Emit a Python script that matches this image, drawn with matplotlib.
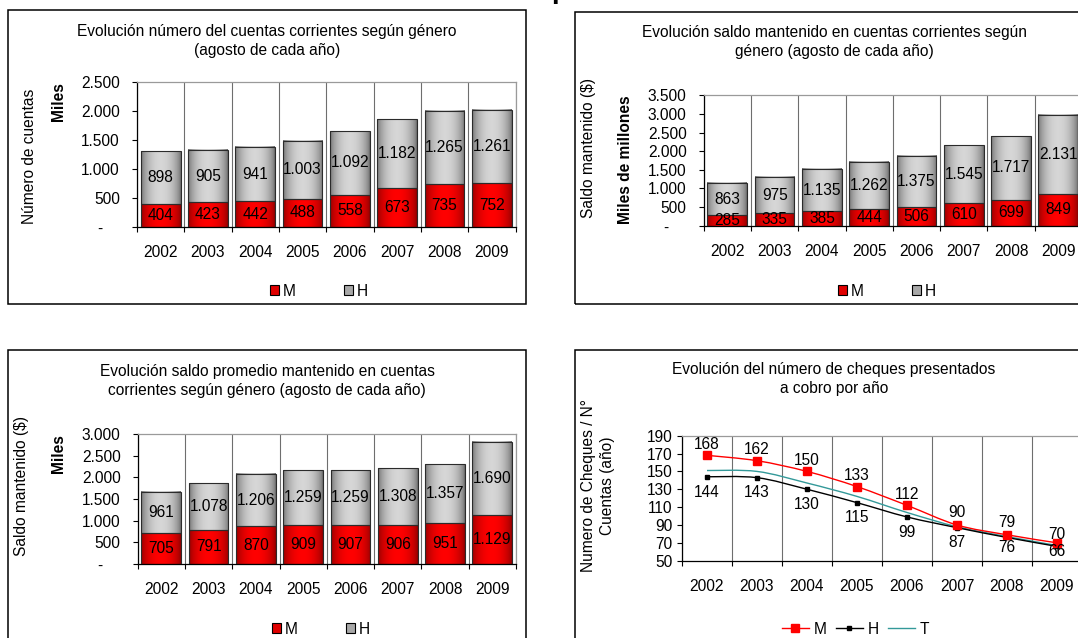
import numpy as np
import matplotlib
matplotlib.use("Agg")
import matplotlib.pyplot as plt
from matplotlib.patches import Rectangle, Patch, PathPatch
from matplotlib.lines import Line2D
from matplotlib.path import Path
from matplotlib.ticker import FuncFormatter

plt.rcParams['font.family'] = ['Liberation Sans', 'DejaVu Sans']

# ---- data -------------------------------------------------------------
years = ['2002', '2003', '2004', '2005', '2006', '2007', '2008', '2009']

cuentas_m = [404, 423, 442, 488, 558, 673, 735, 752]
cuentas_h = [898, 905, 941, 1003, 1092, 1182, 1265, 1261]

saldo_m = [285, 335, 385, 444, 506, 610, 699, 849]
saldo_h = [863, 975, 1135, 1262, 1375, 1545, 1717, 2131]

promedio_m = [705, 791, 870, 909, 907, 906, 951, 1129]
promedio_h = [961, 1078, 1206, 1259, 1259, 1308, 1357, 1690]

cheques_m = [168, 162, 150, 133, 112, 90, 79, 70]
cheques_h = [144, 143, 130, 115, 99, 87, 76, 66]
cheques_t = [151, 150, 137, 122, 104, 88, 77, 67]

# ---- figure helpers ---------------------------------------------------
W, H = 1078, 638
fig = plt.figure(figsize=(W / 100, H / 100), dpi=100)
fig.patch.set_facecolor('white')
FS = 11.2
LS = 1.4


def box(x0, y0, x1, y1):
    return [x0 / W, 1 - y1 / H, (x1 - x0) / W, (y1 - y0) / H]


def ftext(x, y, s, **kw):
    return fig.text(x / W, 1 - y / H, s, **kw)


def frame(x0, y0, x1, y1):
    fig.add_artist(Rectangle((x0 / W, 1 - y1 / H), (x1 - x0) / W, (y1 - y0) / H,
                             transform=fig.transFigure, fill=False,
                             ec='black', lw=1.1, zorder=0))


def miles(v):
    return f"{int(round(v)):,}".replace(',', '.')


def tick_fmt(v, _pos):
    return '-    ' if abs(v) < 1e-9 else miles(v)


def gradient(edge, centre, n=64):
    t = np.linspace(0, 1, n)
    w = np.sin(np.pi * t) ** 0.6
    edge = np.array(edge)[None, :]
    centre = np.array(centre)[None, :]
    rgb = edge * (1 - w[:, None]) + centre * w[:, None]
    return rgb[None, :, :]


RED_GRAD = gradient((0.55, 0.0, 0.0), (1.0, 0.0, 0.0))
GRAY_GRAD = gradient((0.42, 0.42, 0.42), (0.84, 0.84, 0.84))


def style_axes(ax, n, ylo, yhi, step, ypad, xpad):
    x = np.arange(n)
    ax.set_xlim(-0.5, n - 0.5)
    ax.set_ylim(ylo, yhi)
    ax.set_xticks(np.arange(-0.5, n, 1.0))
    ax.set_xticklabels([])
    ax.set_xticks(x, minor=True)
    ax.set_xticklabels(years, minor=True)
    ax.tick_params(axis='x', which='major', length=3.8, width=0.8,
                   direction='out', color='black')
    ax.tick_params(axis='x', which='minor', length=0, pad=xpad, labelsize=FS)
    ax.set_yticks(np.arange(ylo, yhi + step / 2, step))
    ax.yaxis.set_major_formatter(FuncFormatter(tick_fmt))
    ax.tick_params(axis='y', length=3.8, width=0.8, direction='out',
                   pad=ypad, labelsize=FS)
    ax.grid(axis='x', which='major', color='#6e6e6e', lw=0.8)
    ax.set_axisbelow(True)
    for side in ('left', 'bottom'):
        ax.spines[side].set_color('black')
        ax.spines[side].set_linewidth(0.9)
    for side in ('top', 'right'):
        ax.spines[side].set_color('#9a9a9a')
        ax.spines[side].set_linewidth(0.9)
    ax.set_facecolor('white')


def stacked_bars(ax, m, h, ymax, step):
    n = len(years)
    x = np.arange(n)
    style_axes(ax, n, 0, ymax, step, ypad=8.5, xpad=13)
    bw = 0.84
    for vals, base, grad in ((m, np.zeros(n), RED_GRAD),
                             (h, np.array(m), GRAY_GRAD)):
        bars = ax.bar(x, vals, bw, bottom=base, facecolor='none',
                      edgecolor='#2b2b2b', lw=0.8, zorder=3)
        for b, v, b0 in zip(bars, vals, base):
            ax.imshow(grad, extent=(b.get_x(), b.get_x() + b.get_width(),
                                    b.get_y(), b.get_y() + b.get_height()),
                      aspect='auto', interpolation='bilinear', zorder=2)
            ax.text(b.get_x() + b.get_width() / 2, b0 + v / 2, miles(v),
                    ha='center', va='center', fontsize=FS, color='black',
                    zorder=4, clip_on=True)
    ax.set_xlim(-0.5, n - 0.5)
    ax.set_ylim(0, ymax)


def bar_legend(ax, cx, cy):
    handles = [Patch(facecolor='#e00000', edgecolor='black', lw=0.8),
               Patch(facecolor='#a8a8a8', edgecolor='black', lw=0.8)]
    ax.legend(handles, ['M', 'H'], loc='center',
              bbox_to_anchor=(cx / W, 1 - cy / H), bbox_transform=fig.transFigure,
              ncol=2, frameon=False, fontsize=FS, handlelength=0.6,
              handleheight=0.6, handletextpad=0.25, columnspacing=3.1,
              borderpad=0, borderaxespad=0)


def smooth_path(xs, ys):
    pts = np.column_stack([xs, ys]).astype(float)
    n = len(pts)
    verts = [pts[0]]
    codes = [Path.MOVETO]
    for i in range(n - 1):
        p0 = pts[max(i - 1, 0)]
        p1 = pts[i]
        p2 = pts[i + 1]
        p3 = pts[min(i + 2, n - 1)]
        verts += [p1 + (p2 - p0) / 6, p2 - (p3 - p1) / 6, p2]
        codes += [Path.CURVE4] * 3
    return Path(verts, codes)


# ---- panel 1: número de cuentas ---------------------------------------
frame(8, 10, 526, 304)
ax1 = fig.add_axes(box(137, 82, 515.5, 227))
stacked_bars(ax1, cuentas_m, cuentas_h, 2500, 500)
ftext(267, 41, 'Evolución número del cuentas corrientes según género\n(agosto de cada año)',
      ha='center', va='center', fontsize=FS, linespacing=LS)
ftext(30, 156, 'Número de cuentas', rotation=90, ha='center', va='center', fontsize=FS)
ftext(58, 102, 'Miles', rotation=90, ha='center', va='center', fontsize=FS,
      fontweight='bold')
bar_legend(ax1, 319, 291)

# ---- panel 2: saldo mantenido -----------------------------------------
frame(575, 12, 1120, 304)
ax2 = fig.add_axes(box(703.7, 95.3, 1082, 225.7))
stacked_bars(ax2, saldo_m, saldo_h, 3500, 500)
ftext(834, 42, 'Evolución saldo mantenido en cuentas corrientes según\ngénero (agosto de cada año)',
      ha='center', va='center', fontsize=FS, linespacing=LS)
ftext(588, 148, 'Saldo mantenido ($)', rotation=90, ha='center', va='center', fontsize=FS)
ftext(626, 160, 'Miles de millones', rotation=90, ha='center', va='center', fontsize=FS,
      fontweight='bold')
bar_legend(ax2, 887, 291)

# ---- panel 3: saldo promedio ------------------------------------------
frame(8, 350, 526, 720)
ax3 = fig.add_axes(box(137.7, 434, 516, 564))
stacked_bars(ax3, promedio_m, promedio_h, 3000, 500)
ftext(267, 381, 'Evolución saldo promedio mantenido en cuentas\ncorrientes según género (agosto de cada año)',
      ha='center', va='center', fontsize=FS, linespacing=LS)
ftext(22, 486, 'Saldo mantenido ($)', rotation=90, ha='center', va='center', fontsize=FS)
ftext(58, 454, 'Miles', rotation=90, ha='center', va='center', fontsize=FS,
      fontweight='bold')
bar_legend(ax3, 321, 629)

# ---- panel 4: cheques por cuenta --------------------------------------
frame(575, 350, 1120, 720)
ax4 = fig.add_axes(box(682, 435.7, 1082, 560.7))
style_axes(ax4, len(years), 50, 190, 20, ypad=3.0, xpad=13)
xs = np.arange(len(years))
series = [
    (cheques_m, '#ff0000', 's', 5.2, 'M'),
    (cheques_h, '#000000', 's', 2.4, 'H'),
    (cheques_t, '#339999', None, 0, 'T'),
]
for vals, col, mk, ms, _name in series[::-1]:
    ax4.add_patch(PathPatch(smooth_path(xs, vals), fill=False, ec=col, lw=1.0,
                            zorder=3))
    if mk:
        ax4.plot(xs, vals, ls='none', marker=mk, ms=ms, color=col, zorder=4)

# value labels: M above its markers, H below (the last pair sits closer in)
m_offsets = [8, 8, 8, 8, 8, 9, 9, 6]
h_offsets = [-11, -11, -11, -11, -11, -10.5, -7, -3.5]
for i, v in enumerate(cheques_m):
    ax4.annotate(str(v), (i, v), xytext=(0, m_offsets[i]), textcoords='offset points',
                 ha='center', va='center', fontsize=FS, zorder=5)
for i, v in enumerate(cheques_h):
    ax4.annotate(str(v), (i, v), xytext=(0, h_offsets[i]), textcoords='offset points',
                 ha='center', va='center', fontsize=FS, zorder=5)
ftext(834, 379, 'Evolución del número de cheques presentados\na cobro por año',
      ha='center', va='center', fontsize=FS, linespacing=LS)
ftext(598, 486, 'Numero de Cheques / N°\nCuentas (año)', rotation=90,
      ha='center', va='center', fontsize=FS, linespacing=LS)
line_handles = [
    Line2D([], [], color='#ff0000', lw=1.0, marker='s', ms=5.2),
    Line2D([], [], color='#000000', lw=1.0, marker='s', ms=2.4),
    Line2D([], [], color='#339999', lw=1.0),
]
ax4.legend(line_handles, ['M', 'H', 'T'], loc='center',
           bbox_to_anchor=(855.5 / W, 1 - 629 / H), bbox_transform=fig.transFigure,
           ncol=3, frameon=False, fontsize=FS, handlelength=1.75,
           handletextpad=0.3, columnspacing=0.6, borderpad=0, borderaxespad=0)

# clipped heading above the panels
fig.text(551 / W, 1 + 1.5 / H, 'p', fontsize=20, fontweight='bold',
         ha='left', va='baseline')

fig.savefig('out.png', dpi=100, facecolor='white')
